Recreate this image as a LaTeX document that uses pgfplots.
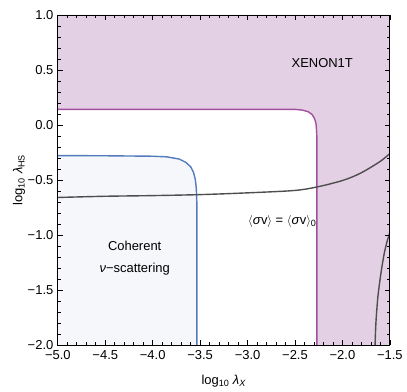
\documentclass[border=0pt]{standalone}
\usepackage{pgfplots}
\pgfplotsset{compat=1.18}
\usepackage{fontspec}
\setmainfont{Liberation Sans}
\definecolor{pinkfill}{RGB}{228,208,228}
\definecolor{purpline}{RGB}{160,80,158}
\definecolor{bluefill}{RGB}{245,247,251}
\definecolor{blueline}{RGB}{82,122,188}
\definecolor{grayline}{RGB}{78,78,78}
\begin{document}
\fontsize{13pt}{15.6pt}\selectfont
\begin{tikzpicture}
\begin{axis}[
  scale only axis,
  width=333pt, height=331pt,
  xmin=-5, xmax=-1.5, ymin=-2, ymax=1,
  xtick={-5,-4.5,-4,-3.5,-3,-2.5,-2,-1.5},
  xticklabels={−5.0,−4.5,−4.0,−3.5,−3.0,−2.5,−2.0,−1.5},
  ytick={-2,-1.5,-1,-0.5,0,0.5,1},
  yticklabels={−2.0,−1.5,−1.0,−0.5,0.0,0.5,1.0},
  minor x tick num=4, minor y tick num=4,
  tick align=inside,
  major tick length=5pt, minor tick length=3pt,
  tick style={black, line width=0.7pt},
  axis line style={black, line width=0.9pt},
  ticklabel style={font=\fontsize{13pt}{15.6pt}\selectfont},
  xticklabel style={yshift=-1pt},
  xlabel={log\textsubscript{10} \textit{λ}\textsubscript{\textit{X}}},
  ylabel={log\textsubscript{10} \textit{λ}\textsubscript{HS}},
  xlabel style={at={(axis description cs:0.5,-0.109)}, anchor=center},
  ylabel style={at={(axis description cs:-0.117,0.5)}, anchor=center},
  axis on top,
  clip=true,
]
% XENON1T excluded region
\addplot[fill=pinkfill, draw=none] coordinates {
  (-5,1) (-1.5,1) (-1.5,-2) (-2.27,-2) (-2.27,-0.1) (-2.275,-0.02) (-2.28,0.02)
  (-2.295,0.06) (-2.32,0.095) (-2.36,0.12) (-2.42,0.135) (-2.5,0.142) (-5,0.142)
} -- cycle;
\addplot[purpline, line width=1.4pt] coordinates {
  (-5,0.142) (-2.5,0.142) (-2.42,0.135) (-2.36,0.12) (-2.32,0.095) (-2.295,0.06)
  (-2.28,0.02) (-2.275,-0.02) (-2.27,-0.1) (-2.27,-2)
};
% coherent neutrino scattering region
\addplot[fill=bluefill, draw=none] coordinates {
  (-5,-2) (-5,-0.278) (-4.5,-0.28) (-4.0,-0.284) (-3.85,-0.29) (-3.72,-0.31)
  (-3.65,-0.34) (-3.6,-0.38) (-3.57,-0.43) (-3.55,-0.5) (-3.54,-0.58)
  (-3.535,-0.7) (-3.535,-2)
} -- cycle;
\addplot[blueline, line width=1.4pt] coordinates {
  (-5,-0.278) (-4.5,-0.28) (-4.0,-0.284) (-3.85,-0.29) (-3.72,-0.31)
  (-3.65,-0.34) (-3.6,-0.38) (-3.57,-0.43) (-3.55,-0.5) (-3.54,-0.58)
  (-3.535,-0.7) (-3.535,-2)
};
% relic density curve
\addplot[grayline, line width=1.4pt, smooth] coordinates {
  (-5,-0.659) (-4.5,-0.648) (-4,-0.642) (-3.5,-0.633) (-3,-0.617)
  (-2.5,-0.595) (-2.25,-0.56) (-2,-0.505) (-1.85,-0.455) (-1.75,-0.41)
  (-1.6,-0.33) (-1.5,-0.26)
};
\addplot[grayline, line width=1.4pt, smooth] coordinates {
  (-1.656,-2) (-1.65,-1.85) (-1.643,-1.74) (-1.625,-1.55) (-1.593,-1.34)
  (-1.56,-1.17) (-1.53,-1.06) (-1.5,-0.975)
};
\node at (axis cs:-2.213,0.565) {XENON1T};
\node at (axis cs:-4.19,-1.10) {Coherent};
\node at (axis cs:-4.19,-1.31) {\textit{ν}−scattering};
\node at (axis cs:-2.634,-0.877) {$\langle$\textit{σ}v$\rangle$ = $\langle$\textit{σ}v$\rangle$\textsubscript{0}};
\end{axis}
\path ([shift={(-58pt,-43pt)}]current axis.south west) rectangle ([shift={(16pt,15pt)}]current axis.north east);
\end{tikzpicture}
\end{document}
